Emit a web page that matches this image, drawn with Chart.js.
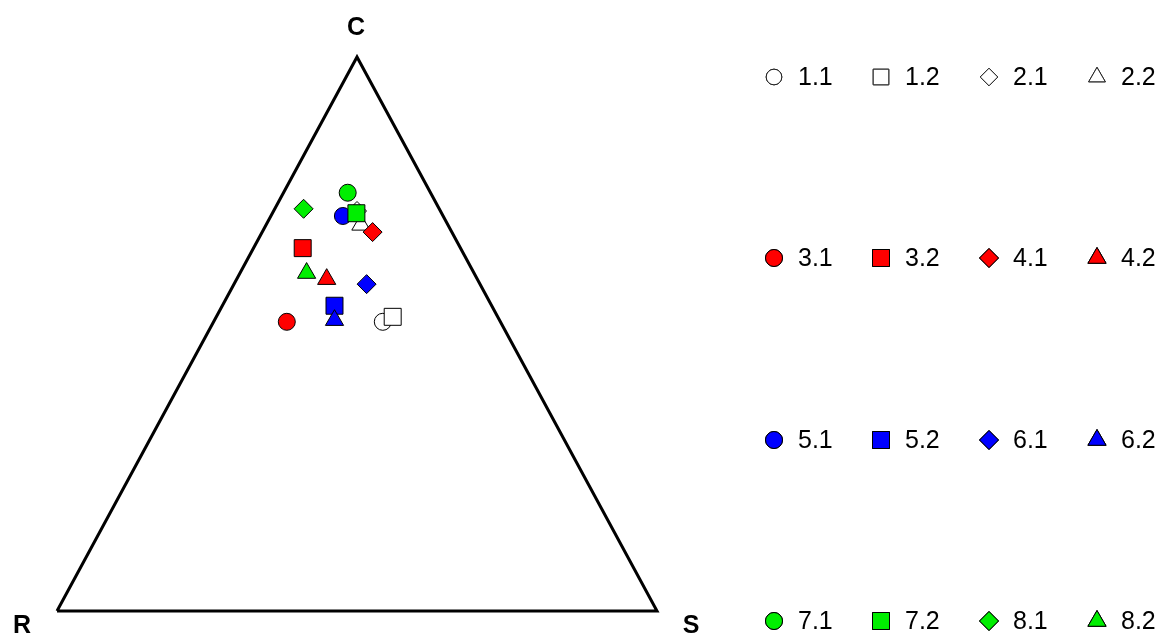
<!DOCTYPE html>
<html>
<head>
<meta charset="utf-8">
<script src="https://cdn.jsdelivr.net/npm/chart.js@4/dist/chart.umd.min.js"></script>
<style>
    body { margin: 0; background: #fff; }
    canvas { display: block; }
</style>
</head>
<body>
<canvas id="ternary-chart" width="1167" height="637"></canvas>
<script>
// CSR ternary data (percent)
const sampleLabels = ['1.1', '1.2', '2.1', '2.2', '3.1', '3.2', '4.1', '4.2',
                      '5.1', '5.2', '6.1', '6.2', '7.1', '7.2', '8.1', '8.2'];
const cValues = [52.2, 53.1, 72.2, 69.7, 52.2, 65.5, 68.4, 59.9, 71.3, 55.1, 59.0, 52.5, 75.5, 71.8, 72.6, 61.0];
const sValues = [28.2, 29.4, 13.9, 15.8, 12.2, 8.2, 18.4, 15.0, 12.0, 18.7, 22.1, 20.0, 10.7, 14.0, 4.8, 11.1];
const rValues = [19.6, 17.5, 13.9, 14.5, 35.6, 26.3, 13.2, 25.1, 16.7, 26.2, 18.9, 27.5, 13.8, 14.2, 22.6, 27.9];
const cornerLabels = ['C', 'R', 'S'];

const groupColors = ['#ffffff', '#ff0000', '#0000ff', '#00ee00'];
const shapeCycle = ['circle', 'rect', 'rectRot', 'triangle'];
const shapeRadius = { circle: 8.5, rect: 12, rectRot: 9.5, triangle: 10.5 };

// ternary -> cartesian (S to the right, C to the top)
function toXY(c, s) {
    return { x: s / 100 + c / 200, y: c / 100 };
}

const pointDatasets = sampleLabels.map((label, i) => {
    const shape = shapeCycle[i % 4];
    return {
        type: 'scatter',
        label: label,
        data: [toXY(cValues[i], sValues[i])],
        pointStyle: shape,
        pointRadius: shapeRadius[shape],
        pointHoverRadius: shapeRadius[shape],
        backgroundColor: groupColors[Math.floor(i / 4)],
        borderColor: '#000',
        borderWidth: 1,
        clip: false
    };
});

const triangleDataset = {
    type: 'line',
    label: 'frame',
    data: [{ x: 0, y: 0 }, { x: 1, y: 0 }, { x: 0.5, y: 1 }, { x: 0, y: 0 }],
    borderColor: '#000',
    borderWidth: 3,
    borderJoinStyle: 'miter',
    pointRadius: 0,
    fill: false,
    tension: 0,
    clip: false
};

const ternaryDecor = {
    id: 'ternaryDecor',
    afterDraw(chart) {
        const ctx = chart.ctx;
        const xs = chart.scales.x, ys = chart.scales.y;
        ctx.save();
        ctx.fillStyle = '#000';
        ctx.textAlign = 'center';
        ctx.textBaseline = 'middle';
        ctx.font = 'bold 25px "Liberation Sans", Arial, sans-serif';
        ctx.fillText(cornerLabels[0], xs.getPixelForValue(0.5) - 1, ys.getPixelForValue(1) - 29);
        ctx.fillText(cornerLabels[1], xs.getPixelForValue(0) - 35, ys.getPixelForValue(0) + 15);
        ctx.fillText(cornerLabels[2], xs.getPixelForValue(1) + 34, ys.getPixelForValue(0) + 15);

        // 4 x 4 legend
        const colX = [774, 881, 989, 1097];
        const rowY = [77, 258, 440, 621];
        ctx.font = '25px "Liberation Sans", Arial, sans-serif';
        ctx.textAlign = 'left';
        sampleLabels.forEach((label, i) => {
            const row = Math.floor(i / 4), col = i % 4;
            const ds = pointDatasets[i];
            const isOpen = row === 0;
            Chart.helpers.drawPoint(ctx, {
                pointStyle: ds.pointStyle,
                radius: isOpen ? ds.pointRadius * 0.92 : ds.pointRadius,
                rotation: 0,
                borderWidth: 1
            }, colX[col], rowY[row]);
            ctx.fillStyle = ds.backgroundColor;
            ctx.strokeStyle = isOpen ? '#222' : '#000';
            ctx.fill();
            ctx.stroke();
            ctx.fillStyle = '#000';
            ctx.fillText(label, colX[col] + 24, rowY[row] + 1);
        });
        ctx.restore();
    }
};

// Chart.js paints the first dataset on top, so list the last-plotted sample first
new Chart(document.getElementById('ternary-chart'), {
    data: { datasets: [...pointDatasets].reverse().concat([triangleDataset]) },
    options: {
        responsive: false,
        animation: false,
        layout: { padding: { left: 57, right: 510, top: 57, bottom: 26 } },
        scales: {
            x: { type: 'linear', min: 0, max: 1, display: false },
            y: { type: 'linear', min: 0, max: 1, display: false }
        },
        plugins: {
            legend: { display: false },
            tooltip: { enabled: false }
        }
    },
    plugins: [ternaryDecor]
});
</script>
</body>
</html>
